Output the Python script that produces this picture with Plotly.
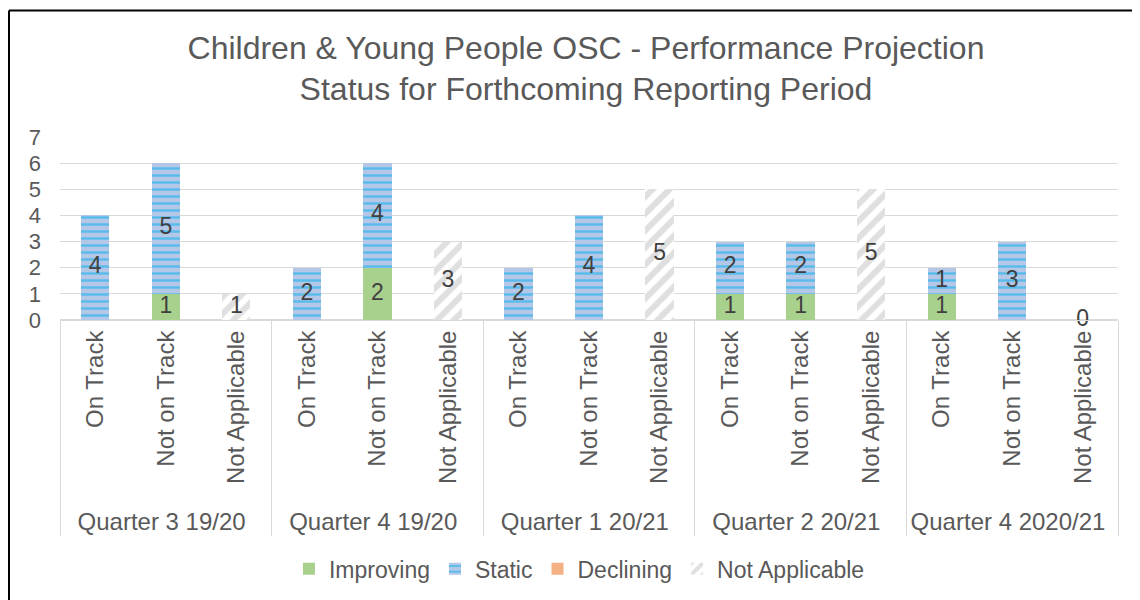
import plotly.graph_objects as go

quarters = ["Quarter 3 19/20", "Quarter 4 19/20", "Quarter 1 20/21", "Quarter 2 20/21", "Quarter 4 2020/21"]
statuses = ["On Track", "Not on Track", "Not Applicable"]

# values per (quarter, status), None = no bar
improving = [None, 1, None,   None, 2, None,   None, None, None,   1, 1, None,   1, None, None]
static    = [4, 5, None,      2, 4, None,      2, 4, None,         2, 2, None,   1, 3, None]
declining = [None, None, None, None, None, None, None, None, None, None, None, None, None, None, None]
not_appl  = [None, None, 1,   None, None, 3,   None, None, 5,      None, None, 5, None, None, 0]

xg = [q for q in quarters for _ in statuses]
xc = [s for _ in quarters for s in statuses]
X = [xg, xc]

TXT = "#595959"
LBL = "#404040"
FONT = "Liberation Sans, Arial, sans-serif"

fig = go.Figure()
fig.add_bar(x=X, y=improving, name="Improving", marker=dict(color="#a9d18e", line=dict(width=0)))
fig.add_bar(x=X, y=static, name="Static",
            marker=dict(color="#b4c7e7", line=dict(width=0),
                        pattern=dict(shape="-", fgcolor="#00b0f0", bgcolor="#b4c7e7", size=7, solidity=0.35)))
fig.add_bar(x=X, y=declining, name="Declining", marker=dict(color="#f4b183", line=dict(width=0)))
fig.add_bar(x=X, y=not_appl, name="Not Applicable",
            marker=dict(color="#ffffff", line=dict(width=0),
                        pattern=dict(shape="/", fgcolor="#bfbfbf", bgcolor="#ffffff", size=12, solidity=0.5)))

# data labels at segment centres
lx0, lx1, ly, lt = [], [], [], []
for i in range(len(xg)):
    base = 0
    for series in (improving, static, declining, not_appl):
        v = series[i]
        if v is None:
            continue
        lx0.append(xg[i]); lx1.append(xc[i])
        ly.append(base + v / 2)
        lt.append(str(v))
        base += v
fig.add_scatter(x=[lx0, lx1], y=ly, text=lt, mode="text", showlegend=False,
                textfont=dict(size=23, color=LBL, family=FONT), cliponaxis=False, hoverinfo="skip")

fig.update_layout(
    barmode="stack", bargap=0.6,
    width=1140, height=600,
    margin=dict(l=52, r=30, t=129, b=288),
    paper_bgcolor="white", plot_bgcolor="white",
    font=dict(family=FONT, color=TXT, size=22),
    title=dict(text="Children & Young People OSC - Performance Projection<br>Status for Forthcoming Reporting Period",
               x=0.507, xanchor="center", y=1 - 50.5 / 600, yanchor="middle",
               font=dict(size=32, color=TXT, family=FONT)),
    legend=dict(orientation="h", x=0.491, xanchor="center", y=-1.36, yanchor="middle",
                font=dict(size=23, color=TXT), traceorder="normal", itemwidth=30),
    showlegend=True,
)
fig.update_yaxes(range=[0, 7], dtick=1, showgrid=True, gridcolor="#d9d9d9", gridwidth=1,
                 zeroline=True, zerolinecolor="#d9d9d9", showline=False, automargin=False,
                 tickfont=dict(size=22, color=TXT), ticks="", ticklabelstandoff=18)
fig.update_xaxes(type="multicategory", range=[-0.5, 14.5], tickangle=-90, tickfont=dict(size=24, color=TXT),
                 showdividers=True, dividercolor="#d9d9d9", dividerwidth=1, automargin=False,
                 showline=True, linecolor="#d9d9d9", ticks="")

top = (312 - 2.5) / 183
left = (1 - 52) / 1058
fig.add_shape(type="line", xref="paper", yref="paper", x0=left, x1=1.1, y0=top, y1=top,
              line=dict(color="black", width=2))
fig.add_shape(type="line", xref="paper", yref="paper", x0=left, x1=left, y0=-2, y1=top,
              line=dict(color="black", width=2))

fig.write_html("out.html")
